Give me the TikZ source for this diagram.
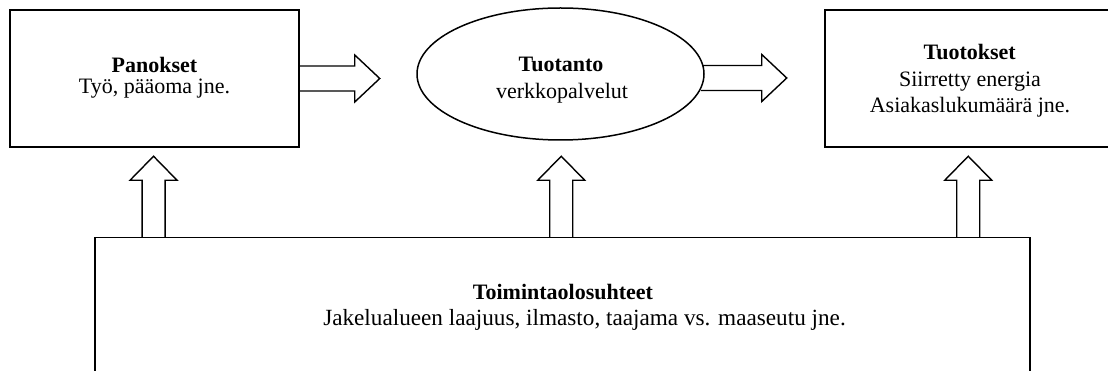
\documentclass[tikz,border=0pt]{standalone}
\usepackage{fontspec}
\setmainfont{Liberation Serif}
\usetikzlibrary{shapes.geometric,backgrounds,calc}
\begin{document}
\begin{tikzpicture}[x=1pt,y=-1pt, line width=1.5pt,
  box/.style={draw=black, fill=white, rectangle, inner sep=0pt},
  oval/.style={draw=black, fill=white, ellipse, inner sep=0pt},
  lbl/.style={font=\fontsize{22}{26}\selectfont, anchor=base, inner sep=0pt},
  blbl/.style={font=\fontsize{22}{26}\selectfont\bfseries, anchor=base, inner sep=0pt},
  fat/.style={draw=black, line width=1.4pt, line join=miter},
  pics/rarrow/.style={code={\draw[fat] (0,-12.5) -- (#1-25,-12.5) -- (#1-25,-23.5) -- (#1,0) -- (#1-25,23.5) -- (#1-25,12.5) -- (0,12.5);}},
  pics/uarrow/.style={code={\draw[fat] (-11.5,0) -- (-11.5,-#1+24) -- (-23.5,-#1+24) -- (0,-#1) -- (23.5,-#1+24) -- (11.5,-#1+24) -- (11.5,0);}}
]
\clip (0,0) rectangle (1108,371);
% boxes
\node[box, minimum width=289, minimum height=137] (pan) at (154.5,78.5) {};
\node[oval, minimum width=287, minimum height=132] (ell) at (560.5,74) {};
\node[box, minimum width=287, minimum height=137] (tuo) at (968.5,78.5) {};
\node[box, minimum width=935, minimum height=170] (bot) at (562.5,322.7) {};
% texts
\node[blbl] (t1a) at (154.5,72.7) {Panokset};
\node[lbl]  (t1b) at (154.5,94) {Työ, pääoma jne.};
\node[blbl] (t2a) at (561,71.7) {Tuotanto};
\node[lbl]  (t2b) at (562,98.3) {verkkopalvelut};
\node[blbl] (t3a) at (969.7,60) {Tuotokset};
\node[lbl]  (t3b) at (970,87) {Siirretty energia};
\node[lbl]  (t3c) at (970,113) {Asiakaslukumäärä jne.};
\node[blbl] (t4a) at (563,300) {Toimintaolosuhteet};
\node[lbl, font=\fontsize{23.2}{27}\selectfont]  (t4b) at (584.5,325.7) {Jakelualueen laajuus, ilmasto, taajama vs. maaseutu jne.};
% arrows
\begin{pgfonlayer}{background}
\pic at (pan.east) {rarrow=80};
\pic at ($(ell.east)+(-4,4)$) {rarrow=86};
\pic at ($(bot.north west)+(59.3,0)$) {uarrow=80.7};
\pic at ($(bot.north west)+(467,0)$) {uarrow=80.7};
\pic at ($(bot.north west)+(874,0)$) {uarrow=80.7};
\end{pgfonlayer}
\end{tikzpicture}
\end{document}
